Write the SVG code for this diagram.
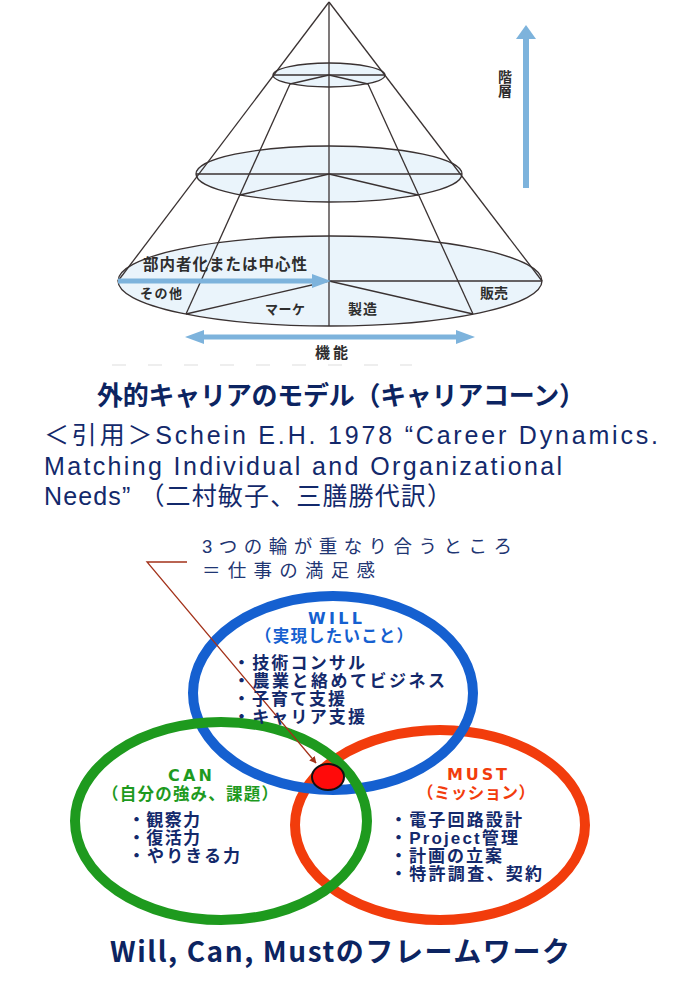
<svg xmlns="http://www.w3.org/2000/svg" width="686" height="990" viewBox="0 0 686 990">
<defs>
<style>
.cone{fill:none;stroke:#3a3232;stroke-width:1.3}
.disk{fill:#eaf4fb;stroke:#3a3232;stroke-width:1.3}
.blu{fill:#7db3dc}
.lbl{font-family:"Noto Sans CJK JP","Noto Sans",sans-serif;fill:#2e2e2e;font-weight:700}
.ttl{font-family:"Noto Sans CJK JP","Noto Sans",sans-serif;fill:#0c2461;font-weight:700}
.cit{font-family:"Liberation Sans","Noto Sans CJK JP",sans-serif;fill:#13296b;font-size:25px}
.hd{font-family:"DejaVu Sans","Noto Sans CJK JP",sans-serif;font-weight:700;font-size:16px}
.vt{font-family:"Liberation Sans","Noto Sans CJK JP",sans-serif;font-weight:700;font-size:16.5px}
.li{font-family:"Liberation Sans","Noto Sans CJK JP",sans-serif;font-weight:700;font-size:17px;fill:#13296b}
.co{font-family:"Liberation Sans","Noto Sans CJK JP",sans-serif;font-size:18.5px;fill:#1f3673}
.ring{fill:none;stroke-width:10}
</style>
<marker id="ah" viewBox="0 0 10 10" refX="9" refY="5" markerWidth="7" markerHeight="7" orient="auto" markerUnits="userSpaceOnUse">
<path d="M0,0 L10,5 L0,10 z" fill="#a3321a"/>
</marker>
</defs>
<rect width="686" height="990" fill="#ffffff"/>

<g id="career-cone">
<ellipse class="disk" cx="330" cy="281" rx="212" ry="45"/>
<ellipse class="disk" cx="329" cy="174" rx="133" ry="28"/>
<ellipse class="disk" cx="329" cy="75" rx="56" ry="12"/>
<line class="cone" x1="329" y1="2" x2="118" y2="281"/>
<line class="cone" x1="329" y1="2" x2="542" y2="281"/>
<line class="cone" x1="329" y1="2" x2="329" y2="326"/>
<line class="cone" x1="273" y1="75" x2="385" y2="75"/>
<line class="cone" x1="196" y1="174" x2="462" y2="174"/>
<line class="cone" x1="118" y1="281" x2="542" y2="281"/>
<polyline class="cone" points="290,84 329,75 368,84"/>
<polyline class="cone" points="240,195 329,174 418,195"/>
<polyline class="cone" points="186,314 329,281 473,314"/>
<line class="cone" x1="290" y1="84" x2="186" y2="314"/>
<line class="cone" x1="368" y1="84" x2="473" y2="314"/>
<line x1="118" y1="281" x2="315" y2="281" stroke="#7db3dc" stroke-width="5"/>
<polygon class="blu" points="312,274 331,281 312,288"/>
<text class="lbl" x="143" y="270" font-size="15.5" textLength="164">部内者化または中心性</text>
<text class="lbl" x="140" y="298" font-size="13" textLength="42">その他</text>
<text class="lbl" x="265" y="314" font-size="13" textLength="40">マーケ</text>
<text class="lbl" x="348" y="314" font-size="14" textLength="29">製造</text>
<text class="lbl" x="480" y="298" font-size="14" textLength="28">販売</text>
<line x1="200" y1="337" x2="460" y2="337" stroke="#7db3dc" stroke-width="5"/>
<polygon class="blu" points="185,337 204,330 204,344"/>
<polygon class="blu" points="475,337 456,330 456,344"/>
<text class="lbl" x="315" y="358" font-size="15" textLength="33">機能</text>
<rect class="blu" x="523" y="37" width="6" height="151"/>
<polygon class="blu" points="526,25 516,39 536,39"/>
<text class="lbl" x="505" y="70" font-size="14" writing-mode="tb" style="writing-mode:vertical-rl" fill="#1e1e1e">階層</text>
<line x1="112" y1="365" x2="412" y2="365" stroke="#eeeeee" stroke-width="2" stroke-dasharray="14,22"/>
</g>

<g id="cone-caption">
<text class="ttl" x="97" y="405" font-size="26" textLength="488">外的キャリアのモデル（キャリアコーン）</text>
<text class="cit" x="44" y="444" textLength="614">＜引用＞Schein E.H. 1978 “Career Dynamics.</text>
<text class="cit" x="44" y="475" textLength="518">Matching Individual and Organizational</text>
<text class="cit" x="44" y="505" textLength="408">Needs” （二村敏子、三膳勝代訳）</text>
</g>

<g id="ring-must">
<ellipse class="ring" cx="440" cy="825" rx="145" ry="95" stroke="#f23c0c"/>
</g>
<g id="ring-will">
<ellipse class="ring" cx="333" cy="693" rx="140" ry="97" stroke="#1560d0"/>
</g>
<g id="ring-can">
<ellipse class="ring" cx="221" cy="821" rx="146" ry="99" stroke="#1e9a1e"/>
</g>

<g id="connectors">
<polyline points="187,562 147,562 316,763" fill="none" stroke="#a3321a" stroke-width="1.3" marker-end="url(#ah)"/>
</g>

<g id="overlap-dot">
<ellipse cx="328" cy="777" rx="16" ry="13" fill="#ff0a0a" stroke="#111" stroke-width="2"/>
</g>

<g id="callout">
<text class="co" x="202" y="553" textLength="310">3つの輪が重なり合うところ</text>
<text class="co" x="202" y="577" textLength="173">＝仕事の満足感</text>
</g>

<g id="will-text">
<text class="hd" x="308" y="624" fill="#1560d0" textLength="54">WILL</text>
<text class="vt" x="255" y="642" fill="#1560d0" textLength="158">（実現したいこと）</text>
<text class="li" x="233" y="669" textLength="132">・技術コンサル</text>
<text class="li" x="233" y="687" textLength="212">・農業と絡めてビジネス</text>
<text class="li" x="233" y="705" textLength="112">・子育て支援</text>
<text class="li" x="233" y="723" textLength="132">・キャリア支援</text>
</g>

<g id="can-text">
<text class="hd" x="168" y="781" fill="#1e9a1e" textLength="44">CAN</text>
<text class="vt" x="102" y="800" fill="#1e9a1e" textLength="176">（自分の強み、課題）</text>
<text class="li" x="128" y="826" textLength="72">・観察力</text>
<text class="li" x="128" y="844" textLength="72">・復活力</text>
<text class="li" x="128" y="862" textLength="112">・やりきる力</text>
</g>

<g id="must-text">
<text class="hd" x="447" y="780" fill="#f23c0c" textLength="60">MUST</text>
<text class="vt" x="417" y="799" fill="#f23c0c" textLength="118">（ミッション）</text>
<text class="li" x="390" y="826" textLength="132">・電子回路設計</text>
<text class="li" x="390" y="844" textLength="128">・Project管理</text>
<text class="li" x="390" y="862" textLength="112">・計画の立案</text>
<text class="li" x="390" y="880" textLength="152">・特許調査、契約</text>
</g>

<g id="framework-title">
<text class="ttl" x="110" y="962" font-size="28" textLength="460">Will, Can, Mustのフレームワーク</text>
</g>
</svg>
